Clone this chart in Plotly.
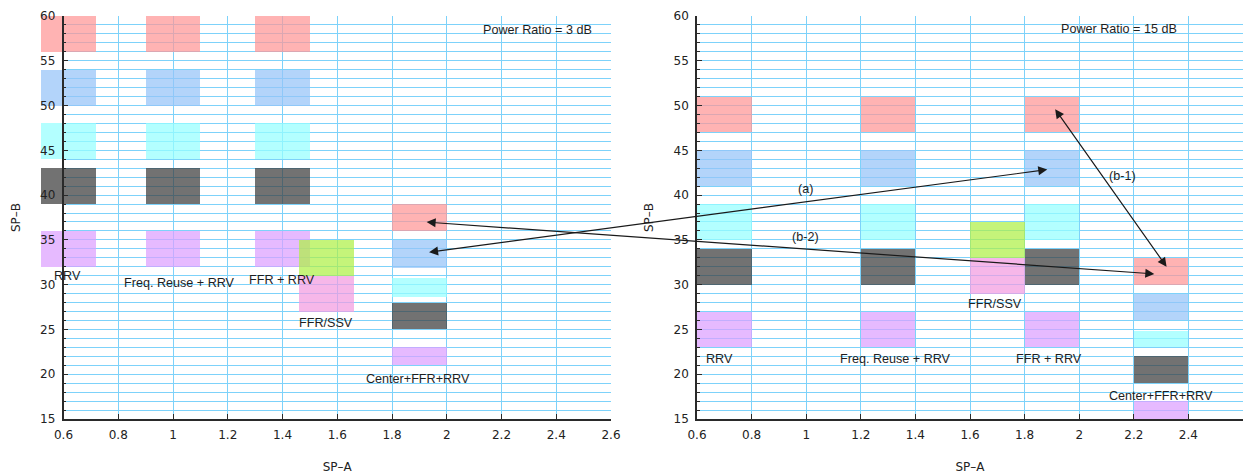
import plotly.graph_objects as go

# ---------------- data ----------------
X_RANGE = [0.6, 2.6]
Y_RANGE = [15, 60]

# Left panel : Power Ratio = 3 dB
left_schemes = ["RRV", "Freq. Reuse + RRV", "FFR + RRV", "Center+FFR+RRV"]
left_x = [0.62, 1.0, 1.4, 1.9]
left_red_lo = [56, 56, 56, 36]
left_red_hi = [60, 60, 60, 39]
left_blue_lo = [50, 50, 50, 31.9]
left_blue_hi = [54, 54, 54, 35]
left_cyan_lo = [44, 44, 44, 28.6]
left_cyan_hi = [48, 48, 48, 30.8]
left_gray_lo = [39, 39, 39, 25]
left_gray_hi = [43, 43, 43, 28]
left_purple_lo = [32, 32, 32, 21]
left_purple_hi = [36, 36, 36, 23]
left_ssv_x = [1.56]
left_green_lo = [31]
left_green_hi = [35]
left_pink_lo = [27]
left_pink_hi = [31]
left_label_x = [0.613, 1.022, 1.398, 1.895]
left_label_y = [30.95, 30.2, 30.5, 19.42]
left_ssv_label = ["FFR/SSV", 1.558, 25.67]
left_title = ["Power Ratio = 3 dB", 2.332, 58.4]

# Right panel : Power Ratio = 15 dB
right_schemes = ["RRV", "Freq. Reuse + RRV", "FFR + RRV", "Center+FFR+RRV"]
right_x = [0.7, 1.3, 1.9, 2.3]
right_red_lo = [47, 47, 47, 30]
right_red_hi = [51, 51, 51, 33]
right_blue_lo = [41, 41, 41, 26]
right_blue_hi = [45, 45, 45, 29]
right_cyan_lo = [35, 35, 35, 23]
right_cyan_hi = [39, 39, 39, 24.8]
right_gray_lo = [30, 30, 30, 19]
right_gray_hi = [34, 34, 34, 22]
right_purple_lo = [23, 23, 23, 15]
right_purple_hi = [27, 27, 27, 17]
right_ssv_x = [1.7]
right_green_lo = [33]
right_green_hi = [37]
right_pink_lo = [29]
right_pink_hi = [33]
right_label_x = [0.683, 1.328, 1.891, 2.301]
right_label_y = [21.68, 21.68, 21.7, 17.57]
right_ssv_label = ["FFR/SSV", 1.693, 27.83]
right_title = ["Power Ratio = 15 dB", 2.146, 58.6]

# arrows: (tail panel, tail x, tail y, head panel, head x, head y)
arrows = [
    ("L", 1.930, 33.6, "R", 1.883, 42.85),
    ("L", 1.921, 37.0, "R", 2.275, 31.2),
    ("R", 1.908, 49.75, "R", 2.320, 32.0),
]
arrow_labels = [("(a)", 0.996, 40.7), ("(b-2)", 0.996, 35.3), ("(b-1)", 2.157, 42.1)]

BAR_W = 0.2

# ---------------- style ----------------
W, H = 1247, 474
M_L, M_R, M_T, M_B = 30, 4, 16, 55
PW = W - M_L - M_R
left_dom = [(63.5 - M_L) / PW, (611 - M_L) / PW]
right_dom = [(697 - M_L) / PW, 1.0]
ext = 0.1 / (X_RANGE[1] - X_RANGE[0]) * (left_dom[1] - left_dom[0])

GRID = "rgb(125,210,250)"
AX = "#2a2a2a"
TICKFONT = dict(family="DejaVu Sans", size=12, color="#222222")
TITLEFONT = dict(family="DejaVu Sans", size=12, color="#222222")
LABELFONT = dict(family="Liberation Sans, Arial", size=12.6, color="#1e1e1e")

COL = {
    "red": "rgba(255,150,150,0.72)",
    "blue": "rgba(150,195,248,0.72)",
    "cyan": "rgba(150,255,255,0.72)",
    "gray": "rgba(60,60,60,0.72)",
    "purple": "rgba(220,160,255,0.72)",
    "green": "rgba(175,240,70,0.72)",
    "pink": "rgba(242,155,225,0.72)",
}

fig = go.Figure()

def add_bars(xs, lo, hi, color, xa, ya):
    fig.add_trace(go.Bar(
        x=xs, y=[h - l for l, h in zip(lo, hi)], base=lo,
        width=[BAR_W] * len(xs), marker=dict(color=color, line=dict(width=0)),
        xaxis=xa, yaxis=ya, showlegend=False, hoverinfo="skip"))

# placeholder trace so the grid subplot exists
fig.add_trace(go.Scatter(x=[], y=[], xaxis="x", yaxis="y", showlegend=False))

left_series = [
    (left_purple_lo, left_purple_hi, "purple"),
    (left_gray_lo, left_gray_hi, "gray"),
    (left_cyan_lo, left_cyan_hi, "cyan"),
    (left_blue_lo, left_blue_hi, "blue"),
    (left_red_lo, left_red_hi, "red"),
]
for lo, hi, c in left_series:
    add_bars(left_x, lo, hi, COL[c], "x2", "y2")
add_bars(left_ssv_x, left_green_lo, left_green_hi, COL["green"], "x2", "y2")
add_bars(left_ssv_x, left_pink_lo, left_pink_hi, COL["pink"], "x2", "y2")

fig.add_trace(go.Scatter(x=[], y=[], xaxis="x3", yaxis="y3", showlegend=False))

right_series = [
    (right_purple_lo, right_purple_hi, "purple"),
    (right_gray_lo, right_gray_hi, "gray"),
    (right_cyan_lo, right_cyan_hi, "cyan"),
    (right_blue_lo, right_blue_hi, "blue"),
    (right_red_lo, right_red_hi, "red"),
]
for lo, hi, c in right_series:
    add_bars(right_x, lo, hi, COL[c], "x4", "y4")
add_bars(right_ssv_x, right_green_lo, right_green_hi, COL["green"], "x4", "y4")
add_bars(right_ssv_x, right_pink_lo, right_pink_hi, COL["pink"], "x4", "y4")

# ---------------- axes ----------------
grid_x = dict(range=X_RANGE, dtick=0.2, tick0=0.6, showgrid=True, gridcolor=GRID,
              gridwidth=1, zeroline=False)
grid_y = dict(range=Y_RANGE, dtick=5, tick0=15, showgrid=True, gridcolor=GRID, gridwidth=1,
              zeroline=False, minor=dict(dtick=1, showgrid=True, gridcolor=GRID, gridwidth=1))
line_x = dict(showline=True, linecolor=AX, linewidth=1.6, ticks="inside", ticklen=5,
              tickcolor=AX, tickwidth=1.2, tickfont=TICKFONT, ticklabelstandoff=4,
              automargin=False,
              title=dict(text="SP\u2013A", font=TITLEFONT, standoff=23))
line_y = dict(showline=True, linecolor=AX, linewidth=1.6, ticks="inside", ticklen=5,
              tickcolor=AX, tickwidth=1.2, tickfont=TICKFONT, ticklabelstandoff=4,
              automargin=False,
              title=dict(text="SP\u2013B", font=TITLEFONT, standoff=17))

fig.update_layout(
    width=W, height=H, autosize=False,
    margin=dict(l=M_L, r=M_R, t=M_T, b=M_B, autoexpand=False),
    paper_bgcolor="white", plot_bgcolor="rgba(0,0,0,0)",
    barmode="overlay", bargap=0,
    xaxis=dict(domain=left_dom, anchor="y", showticklabels=False, ticks="", **grid_x),
    yaxis=dict(domain=[0, 1], anchor="x", showticklabels=False, ticks="", **grid_y),
    xaxis2=dict(domain=[left_dom[0] - ext, left_dom[1]], anchor="y2",
                range=[X_RANGE[0] - 0.1, X_RANGE[1]], visible=False),
    yaxis2=dict(domain=[0, 1], anchor="x2", range=Y_RANGE, visible=False),
    xaxis3=dict(domain=left_dom, anchor="y3", range=X_RANGE, dtick=0.2, tick0=0.6,
                showgrid=False, zeroline=False, **line_x),
    yaxis3=dict(domain=[0, 1], anchor="x3", range=Y_RANGE, dtick=5, tick0=15,
                showgrid=False, zeroline=False,
                minor=dict(dtick=1, ticks="inside", ticklen=3, tickcolor=AX, showgrid=False),
                **line_y),
    xaxis4=dict(domain=right_dom, anchor="y4", **grid_x, **line_x),
    yaxis4=dict(domain=[0, 1], anchor="x4", range=Y_RANGE, dtick=5, tick0=15,
                showgrid=True, gridcolor=GRID, gridwidth=1, zeroline=False,
                minor=dict(dtick=1, ticks="inside", ticklen=3, tickcolor=AX,
                           showgrid=True, gridcolor=GRID, gridwidth=1),
                **line_y),
)

# ---------------- text labels ----------------
for name, x, y in zip(left_schemes, left_label_x, left_label_y):
    fig.add_annotation(x=x, y=y, xref="x", yref="y", text=name, showarrow=False, font=LABELFONT)
for name, x, y in zip(right_schemes, right_label_x, right_label_y):
    fig.add_annotation(x=x, y=y, xref="x4", yref="y4", text=name, showarrow=False, font=LABELFONT)
for (name, x, y), xr, yr in [(left_ssv_label, "x", "y"), (right_ssv_label, "x4", "y4"),
                             (left_title, "x", "y"), (right_title, "x4", "y4")]:
    fig.add_annotation(x=x, y=y, xref=xr, yref=yr, text=name, showarrow=False, font=LABELFONT)
for name, x, y in arrow_labels:
    fig.add_annotation(x=x, y=y, xref="x4", yref="y4", text=name, showarrow=False, font=LABELFONT)

# ---------------- arrows (left-x-domain coordinates span both panels) ----------------
def dom_x(panel, xv):
    f = (xv - X_RANGE[0]) / (X_RANGE[1] - X_RANGE[0])
    if panel == "L":
        return f
    paper = right_dom[0] + f * (right_dom[1] - right_dom[0])
    return (paper - left_dom[0]) / (left_dom[1] - left_dom[0])

def dom_y(yv):
    return (yv - Y_RANGE[0]) / (Y_RANGE[1] - Y_RANGE[0])

for tp, tx, ty, hp, hx, hy in arrows:
    fig.add_annotation(
        x=dom_x(hp, hx), y=dom_y(hy), ax=dom_x(tp, tx), ay=dom_y(ty),
        xref="x domain", yref="y domain", axref="x domain", ayref="y domain",
        text="", showarrow=True, arrowhead=2, startarrowhead=2, arrowside="end+start",
        arrowsize=1.5, startarrowsize=1.5, arrowwidth=1.2, arrowcolor="#1a1a1a")

# let the figure fill the window exactly (no default 8px page margin)
fig.write_html("out.html", config={"displayModeBar": False},
               post_script="document.body.style.margin='0';document.body.style.overflow='hidden';")
